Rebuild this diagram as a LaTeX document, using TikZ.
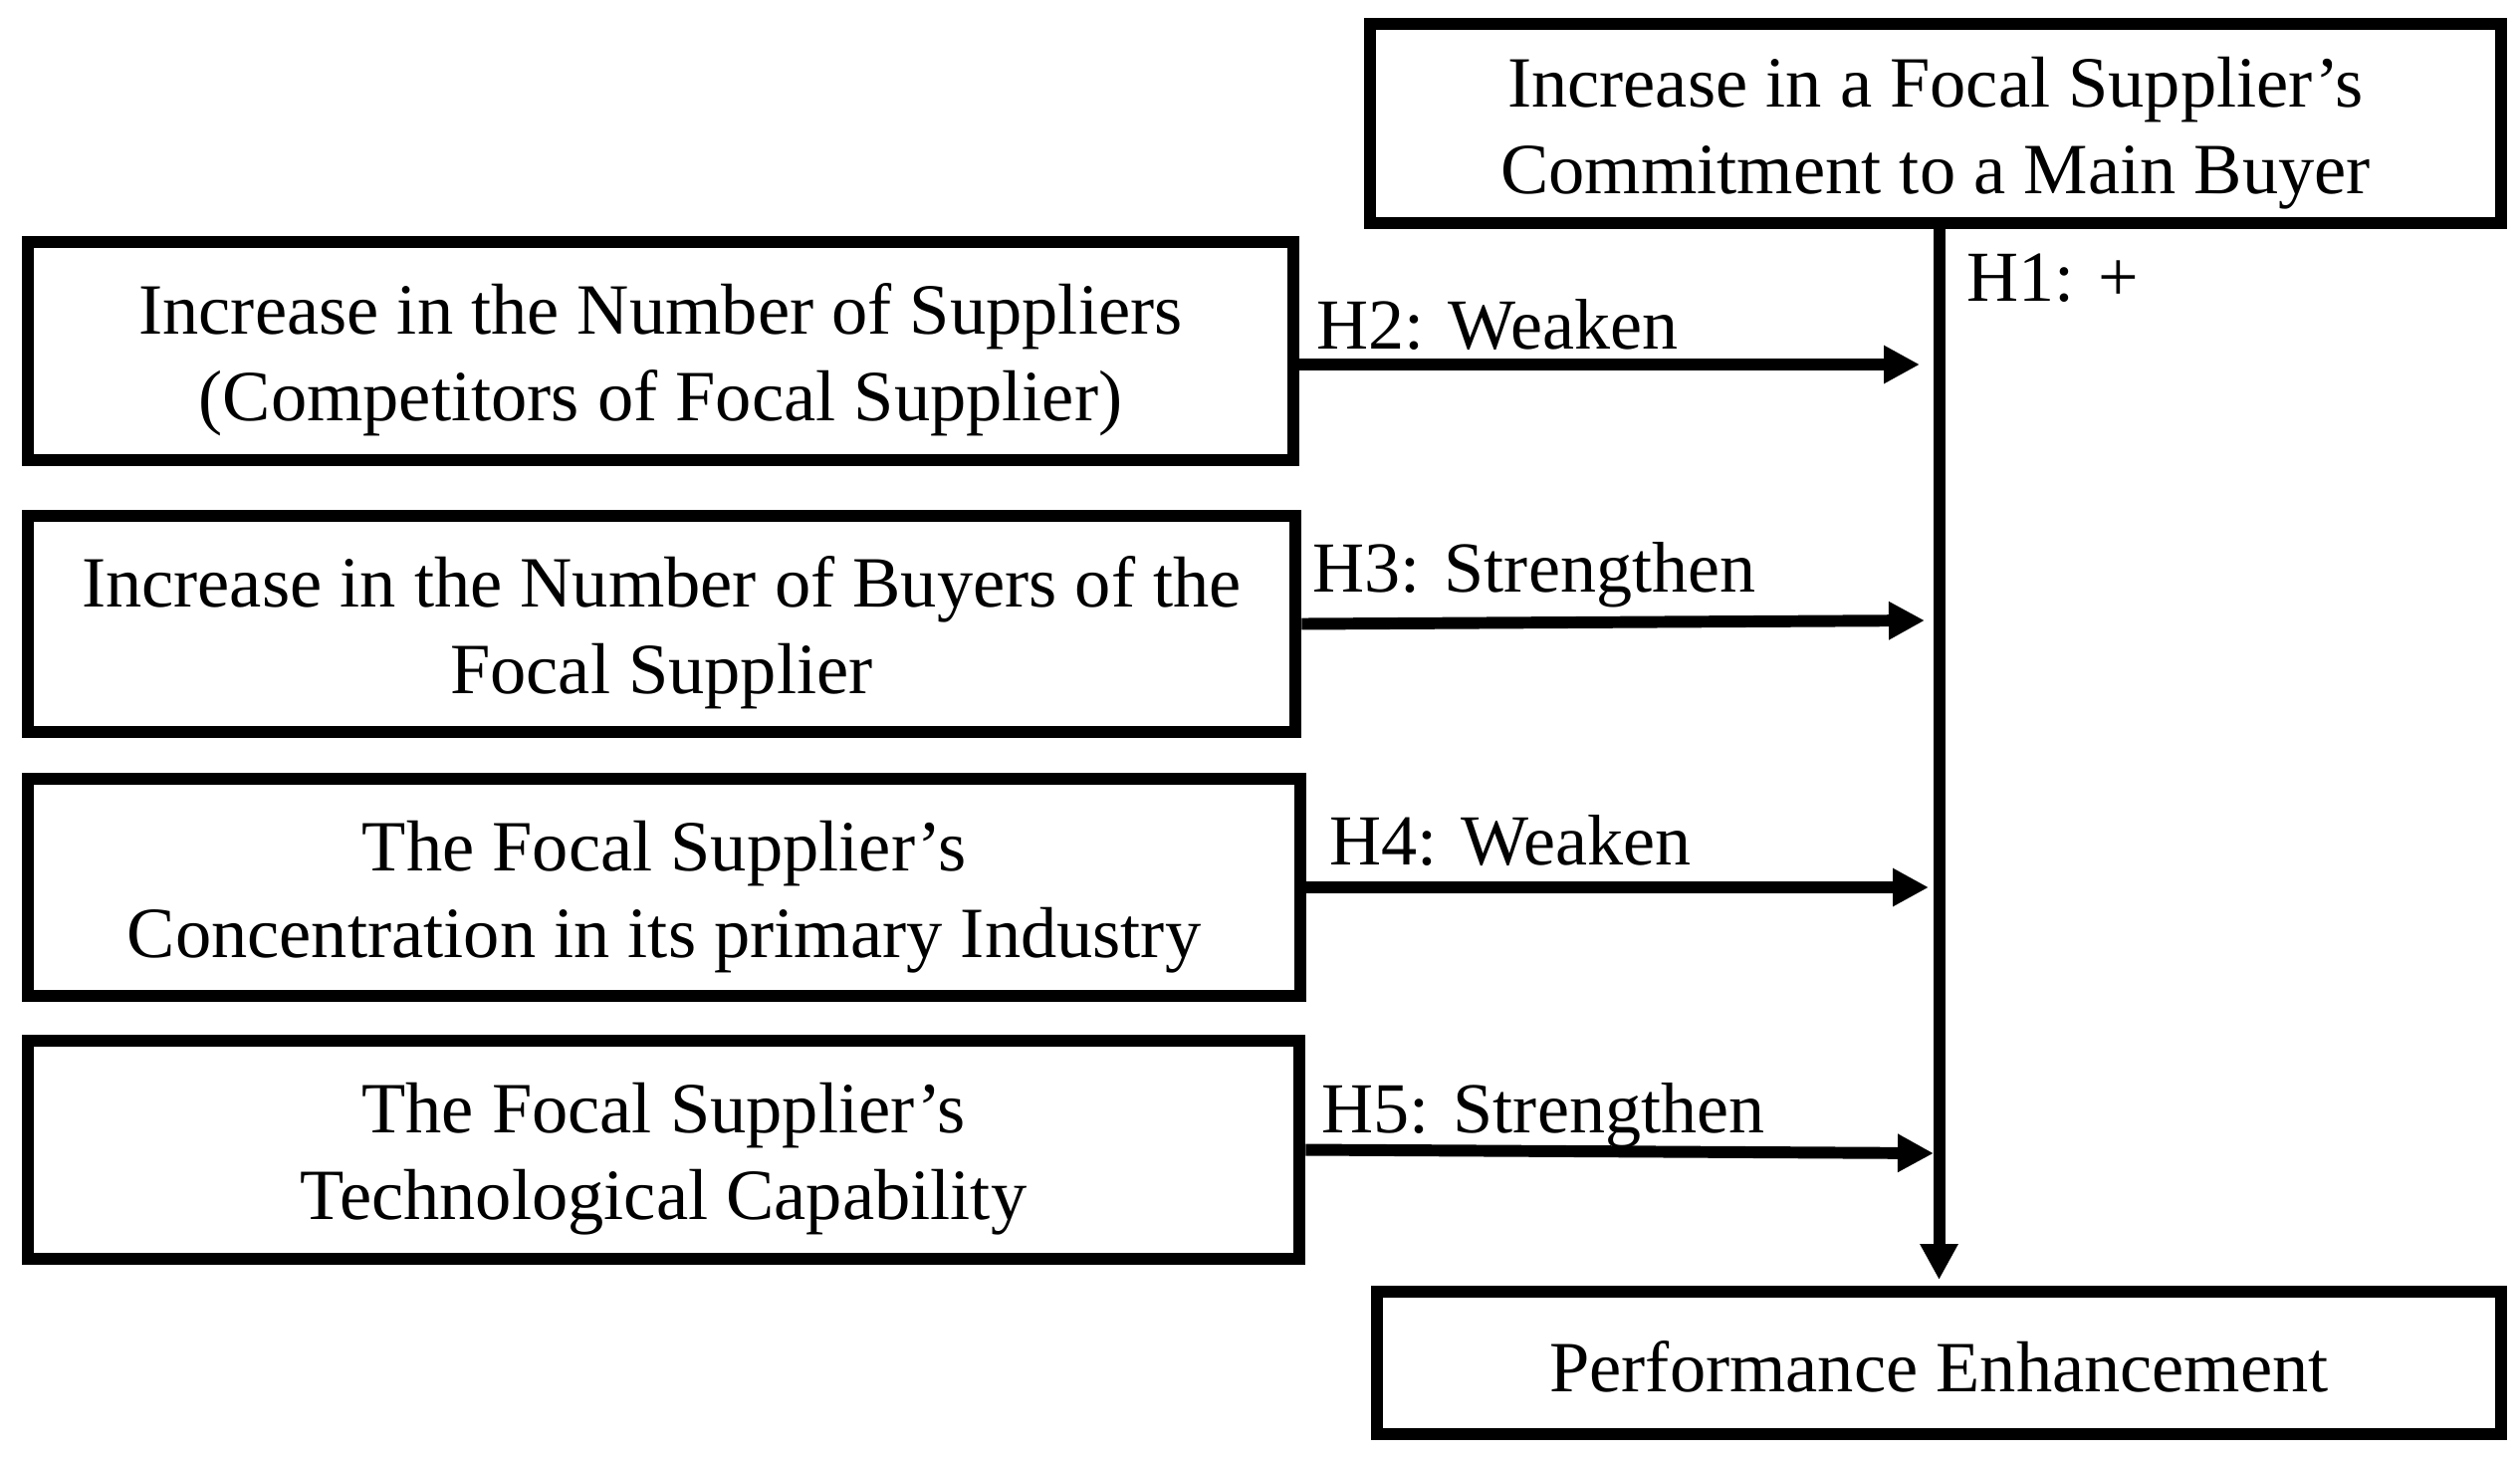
\documentclass[tikz,border=0pt]{standalone}
\usepackage{fontspec}
\setmainfont{Liberation Serif}
\usepackage{tikz}
\usetikzlibrary{arrows.meta}

\tikzset{
  box/.style={draw, line width=3.4pt, align=center, inner sep=0pt,
    font=\fontsize{20.6}{24.7}\selectfont},
  twoline/.style={box, text height=40pt, text depth=0pt},
  arr/.style={line width=3.4pt, -{Triangle[length=0.36cm,width=0.36cm]}},
  hyp/.style={anchor=base west, inner sep=0pt, font=\fontsize{20.5}{24.7}\selectfont}
}

\begin{document}
\begin{tikzpicture}[x=0.01cm, y=-0.01cm]
\useasboundingbox (0,0) rectangle (2531,1466);
\node[twoline, minimum width=11.36cm, minimum height=2.00cm] (focal) at (1944,124)
  {Increase in a Focal Supplier’s\\Commitment to a Main Buyer};
\node[twoline, minimum width=12.71cm, minimum height=2.19cm] (sup) at (663.5,352.5)
  {Increase in the Number of Suppliers\\(Competitors of Focal Supplier)};
\node[twoline, minimum width=12.73cm, minimum height=2.17cm] (buy) at (664.5,626.5)
  {Increase in the Number of Buyers of the\\Focal Supplier};
\node[twoline, minimum width=12.78cm, minimum height=2.18cm] (conc) at (667,891)
  {The Focal Supplier’s\\Concentration in its primary Industry};
\node[twoline, minimum width=12.77cm, minimum height=2.19cm] (tech) at (666.5,1154.5)
  {The Focal Supplier’s\\Technological Capability};
\node[box, text height=16.3pt, text depth=0pt, minimum width=11.29cm, minimum height=1.43cm] (perf) at (1947.5,1368.5)
  {Performance Enhancement};

% arrow ends on the main path
\coordinate (t2) at (1928,366);
\coordinate (t3) at (1933,623);
\coordinate (t4) at (1937,891);
\coordinate (t5) at (1942,1158);

\draw[arr, shorten >=1.7pt] (perf.north |- focal.south) -- (perf.north);
\draw[arr] (sup.east |- t2) -- (t2);
\draw[arr] (buy.east) -- (t3);
\draw[arr] (conc.east) -- (t4);
\draw[arr] (tech.east) -- (t5);

\node[hyp] (h1) at (1975,302) {H1: +};
\node[hyp] (h2) at (1322,350) {H2: Weaken};
\node[hyp] (h3) at (1318,594) {H3: Strengthen};
\node[hyp] (h4) at (1335,868) {H4: Weaken};
\node[hyp] (h5) at (1327,1137) {H5: Strengthen};
\end{tikzpicture}
\end{document}
